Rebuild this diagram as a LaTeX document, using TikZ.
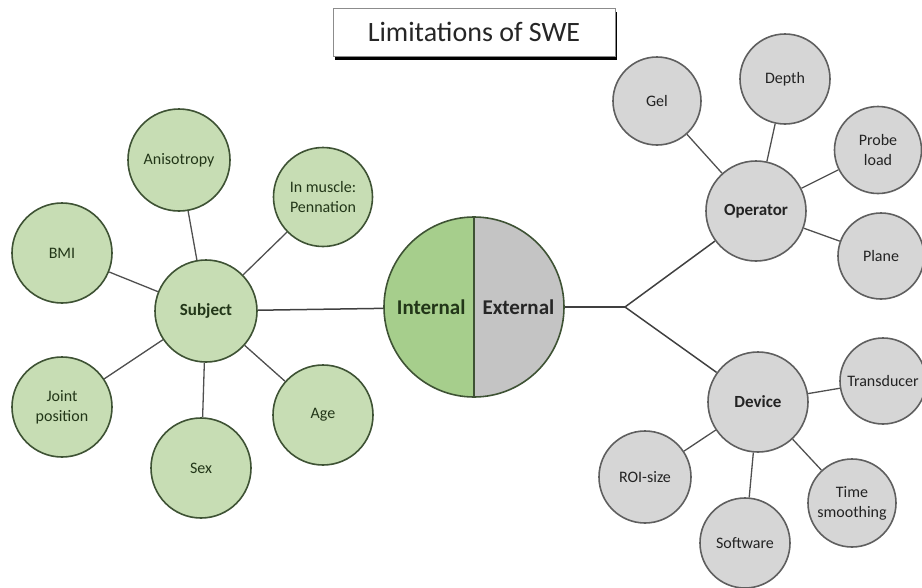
\documentclass[tikz,border=0pt]{standalone}
\usepackage{fontspec}
\setmainfont{Carlito}
\usetikzlibrary{shadows,backgrounds}
\definecolor{gfill}{RGB}{199,221,180}
\definecolor{gdraw}{RGB}{62,82,52}
\definecolor{gtext}{RGB}{34,54,24}
\definecolor{sfill}{RGB}{214,214,214}
\definecolor{sdraw}{RGB}{95,95,95}
\definecolor{stext}{RGB}{35,35,35}
\definecolor{infill}{RGB}{166,206,140}
\definecolor{exfill}{RGB}{196,196,196}
\definecolor{lnc}{RGB}{80,80,80}
\begin{document}
\begin{tikzpicture}[x=1pt,y=-1pt,
  base/.style={circle,line width=1.6pt,inner sep=0pt,align=center,
    font=\fontsize{16}{20}\selectfont},
  gc/.style={base,draw=gdraw,fill=gfill,text=gtext,minimum size=#1},
  sc/.style={base,draw=sdraw,fill=sfill,text=stext,minimum size=#1},
  hub/.style={font=\fontsize{17}{20}\selectfont\bfseries},
  link/.style={draw=lnc,line width=1.3pt},
  mainlink/.style={draw=black!75,line width=1.5pt}]
\useasboundingbox (0,0) rectangle (922,587);

% title
\node[draw=black!45,line width=0.8pt,fill=white,minimum width=282,minimum height=48,
  font=\fontsize{28}{32}\selectfont,text=black!85,
  drop shadow={shadow xshift=1.5pt,shadow yshift=-4pt,fill=black,opacity=1}]
  (title) at (474,32) {Limitations of SWE};

% centre circle
\node[circle,minimum size=180,inner sep=0pt] (core) at (474,307) {};
\begin{scope}
  \clip (474,307) circle (90);
  \fill[infill] (384,217) rectangle (474,397);
  \fill[exfill] (474,217) rectangle (564,397);
\end{scope}
\draw[draw=gdraw,line width=1.6pt] (474,307) circle (90);
\draw[draw=gdraw,line width=1.4pt] (core.north) -- (core.south);
\node[font=\fontsize{21}{24}\selectfont\bfseries,text=gtext,anchor=east] (int) at (469,307) {Internal};
\node[font=\fontsize{21}{24}\selectfont\bfseries,text=black!85,anchor=west] (ext) at (479,307) {External};

% internal side
\node[gc=102,hub] (subj) at (206,311) {Subject};
\node[gc=102] (aniso) at (179,160) {Anisotropy};
\node[gc=99] (penn) at (323,197) {In muscle:\\Pennation};
\node[gc=100] (bmi) at (62,253) {BMI};
\node[gc=100] (joint) at (62,407) {Joint\\position};
\node[gc=100] (sex) at (201,468) {Sex};
\node[gc=100] (age) at (323,415) {Age};

% external side
\coordinate (br) at (625,307);
\node[sc=100,hub] (op) at (756,211) {Operator};
\node[sc=88] (gel) at (657,101) {Gel};
\node[sc=90] (depth) at (785,79) {Depth};
\node[sc=87] (probe) at (878,150) {Probe\\load};
\node[sc=86] (plane) at (881,256) {Plane};
\node[sc=100,hub] (dev) at (758,402) {Device};
\node[sc=86] (trans) at (883,381) {Transducer};
\node[sc=92] (roi) at (645,477) {ROI-size};
\node[sc=90] (soft) at (745,543) {Software};
\node[sc=88] (time) at (852,503) {Time\\smoothing};

\begin{scope}[on background layer]
  \draw[mainlink] (subj) -- (core);
  \draw[mainlink] (core) -- (br);
  \draw[mainlink] (br) -- (op);
  \draw[mainlink] (br) -- (dev);
  \foreach \n in {aniso,penn,bmi,joint,sex,age} \draw[link] (subj) -- (\n);
  \foreach \n in {gel,depth,probe,plane} \draw[link] (op) -- (\n);
  \foreach \n in {trans,roi,soft,time} \draw[link] (dev) -- (\n);
\end{scope}
\end{tikzpicture}
\end{document}
